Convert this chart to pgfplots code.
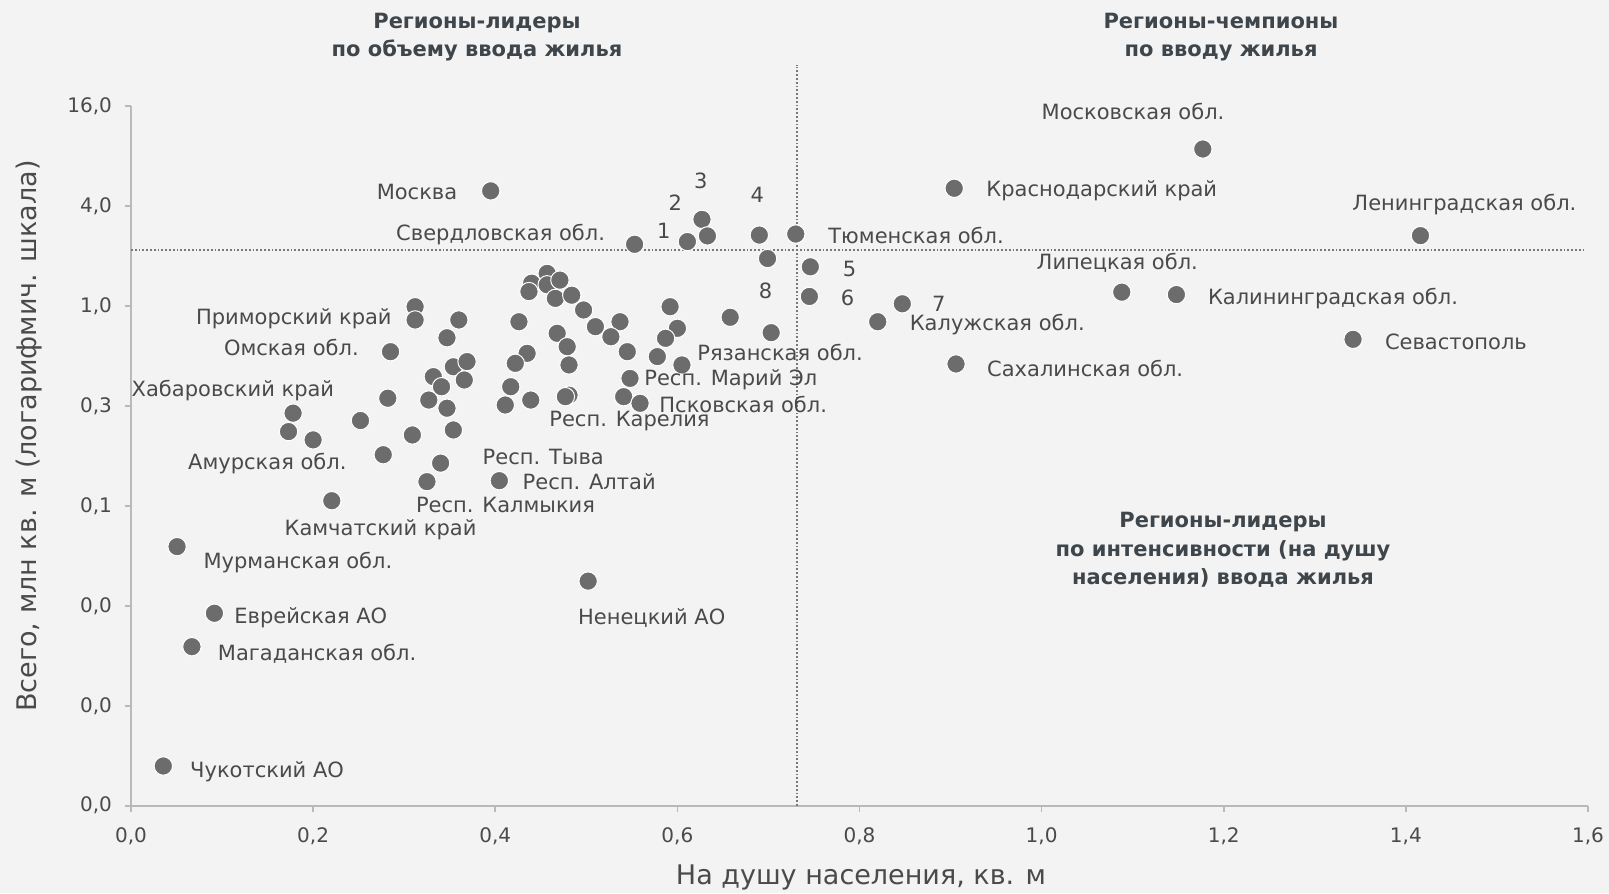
\documentclass[border=0pt]{standalone}
\usepackage{fontspec}
\setmainfont{DejaVu Sans}
\usepackage{pgfplots}
\pgfplotsset{compat=1.18}
\definecolor{bg}{RGB}{243,243,243}
\definecolor{dot}{RGB}{108,108,108}
\definecolor{txt}{RGB}{74,74,74}
\definecolor{ttl}{RGB}{62,70,76}
\definecolor{axc}{RGB}{185,185,185}
\definecolor{refl}{RGB}{120,120,120}
\newcommand{\lab}[4]{\node[anchor=#1, text=txt, font=\fontsize{10.5}{12}\selectfont, inner sep=0pt] at ({(#2-131)*0.5pt},{(805.7-#3)*0.5pt}) {#4};}
\pgfplotstableread{
x y
0.395 4.93
0.553 2.35
0.611 2.44
0.627 3.32
0.633 2.64
0.690 2.67
0.730 2.71
0.699 1.93
0.746 1.72
0.745 1.14
0.847 1.03
0.820 0.803
1.177 8.81
0.904 5.11
1.416 2.65
1.088 1.21
1.148 1.17
1.342 0.629
0.906 0.447
0.658 0.854
0.703 0.690
0.0506 0.0355
0.0916 0.01409
0.0669 0.00886
0.0355 0.001694
0.502 0.0220
0.4045 0.0886
0.2205 0.0671
0.312 0.989
0.312 0.823
0.360 0.823
0.347 0.643
0.354 0.430
0.369 0.462
0.366 0.358
0.332 0.375
0.341 0.326
0.327 0.271
0.347 0.242
0.354 0.179
0.309 0.167
0.285 0.530
0.282 0.278
0.252 0.204
0.178 0.226
0.173 0.175
0.200 0.156
0.277 0.127
0.340 0.113
0.325 0.0874
0.426 0.803
0.435 0.518
0.422 0.451
0.417 0.326
0.411 0.253
0.439 0.271
0.457 1.57
0.440 1.37
0.437 1.22
0.457 1.34
0.471 1.43
0.466 1.11
0.484 1.16
0.497 0.945
0.510 0.750
0.537 0.803
0.527 0.652
0.545 0.530
0.468 0.684
0.479 0.568
0.481 0.441
0.481 0.290
0.477 0.284
0.548 0.366
0.541 0.284
0.559 0.259
0.592 0.989
0.600 0.733
0.587 0.638
0.578 0.495
0.605 0.441
}\regions
\usepackage{pgfplotstable}
\begin{document}
\begin{tikzpicture}
\fill[bg] (-65.5pt,-43.65pt) rectangle (739pt,402.85pt);
\path[use as bounding box] (-65.5pt,-43.65pt) rectangle (739pt,402.85pt);
\begin{axis}[
  at={(0pt,0pt)}, anchor=south west,
  scale only axis, width=728.5pt, height=349.85pt,
  xmin=0, xmax=1.6,
  ymode=log, log basis y=4,
  ymin=0.0009765625, ymax=16,
  axis lines*=left,
  axis line style={axc, line width=0.8pt},
  tick style={axc, line width=0.8pt},
  tick align=outside,
  major tick length=3pt,
  clip=false,
  xtick={0,0.2,0.4,0.6,0.8,1.0,1.2,1.4,1.6},
  xticklabels={{0,0},{0,2},{0,4},{0,6},{0,8},{1,0},{1,2},{1,4},{1,6}},
  ytick={0.0009765625,0.00390625,0.015625,0.0625,0.25,1,4,16},
  yticklabels={{0,0},{0,0},{0,0},{0,1},{0,3},{1,0},{4,0},{16,0}},
  yminorticks=false,
  xticklabel style={font=\fontsize{10}{12}\selectfont, text=txt, yshift=-4.5pt},
  yticklabel style={font=\fontsize{10}{12}\selectfont, text=txt, xshift=-3pt},
]
\draw[refl, densely dotted, line width=0.9pt] (axis cs:0.731,0.0009765625) -- (axis cs:0.731,28.4);
\draw[refl, densely dotted, line width=0.9pt] (axis cs:0,2.16) -- (axis cs:1.597,2.16);
\addplot[only marks, mark=*, mark size=4.6pt, mark options={fill=dot, draw=white, line width=0.5pt}] table[x=x,y=y] {\regions};
\end{axis}
% titles
\node[align=center, text=ttl, font=\bfseries\fontsize{10.5}{14.35}\selectfont] at ({(477-131)*0.5pt},{(805.7-37)*0.5pt}) {Регионы-лидеры\\по объему ввода жилья};
\node[align=center, text=ttl, font=\bfseries\fontsize{10.5}{14.35}\selectfont] at ({(1221-131)*0.5pt},{(805.7-37)*0.5pt}) {Регионы-чемпионы\\по вводу жилья};
\node[align=center, text=ttl, font=\bfseries\fontsize{10.5}{14.35}\selectfont] at ({(1223-131)*0.5pt},{(805.7-550)*0.5pt}) {Регионы-лидеры\\по интенсивности (на душу\\населения) ввода жилья};
% axis labels
\node[rotate=90, text=txt, font=\fontsize{13.5}{15}\selectfont] at (-51.15pt,184.85pt) {Всего, млн кв. м (логарифмич. шкала)};
\node[text=txt, font=\fontsize{13.5}{15}\selectfont] at (365pt,-35.8pt) {На душу населения, кв. м};
% point labels
\lab{east}{457.6}{191.9}{Москва}
\lab{east}{605.4}{235}{Свердловская обл.}
\lab{center}{663.9}{230.9}{1}
\lab{center}{675.2}{203.2}{2}
\lab{center}{700.8}{180.6}{3}
\lab{center}{757.3}{195}{4}
\lab{center}{849.6}{268.8}{5}
\lab{center}{847.6}{297.6}{6}
\lab{center}{938.9}{304}{7}
\lab{center}{765.5}{290.4}{8}
\lab{west}{828}{236}{Тюменская обл.}
\lab{center}{1133}{112}{Московская обл.}
\lab{west}{986}{191}{Краснодарский край}
\lab{center}{1464.4}{205}{Ленинградская обл.}
\lab{center}{1117.3}{263.3}{Липецкая обл.}
\lab{west}{1207.6}{298.3}{Калининградская обл.}
\lab{west}{909.4}{325}{Калужская обл.}
\lab{west}{1384.6}{342.3}{Севастополь}
\lab{west}{986.8}{368.3}{Сахалинская обл.}
\lab{west}{697}{352}{Рязанская обл.}
\lab{west}{644}{380}{Респ. Марий Эл}
\lab{west}{659}{404}{Псковская обл.}
\lab{west}{549}{421.5}{Респ. Карелия}
\lab{west}{482.3}{456.6}{Респ. Тыва}
\lab{west}{522.3}{481.2}{Респ. Алтай}
\lab{west}{415.6}{504.8}{Респ. Калмыкия}
\lab{west}{284.2}{529.5}{Камчатский край}
\lab{west}{203.2}{562.3}{Мурманская обл.}
\lab{west}{234}{617.7}{Еврейская АО}
\lab{west}{217.5}{653.6}{Магаданская обл.}
\lab{west}{189.8}{771.6}{Чукотский АО}
\lab{west}{577.7}{617.7}{Ненецкий АО}
\lab{west}{187.8}{463.8}{Амурская обл.}
\lab{east}{334.5}{391}{Хабаровский край}
\lab{east}{359.1}{347.8}{Омская обл.}
\lab{east}{392}{319.1}{Приморский край}
\end{tikzpicture}
\end{document}
